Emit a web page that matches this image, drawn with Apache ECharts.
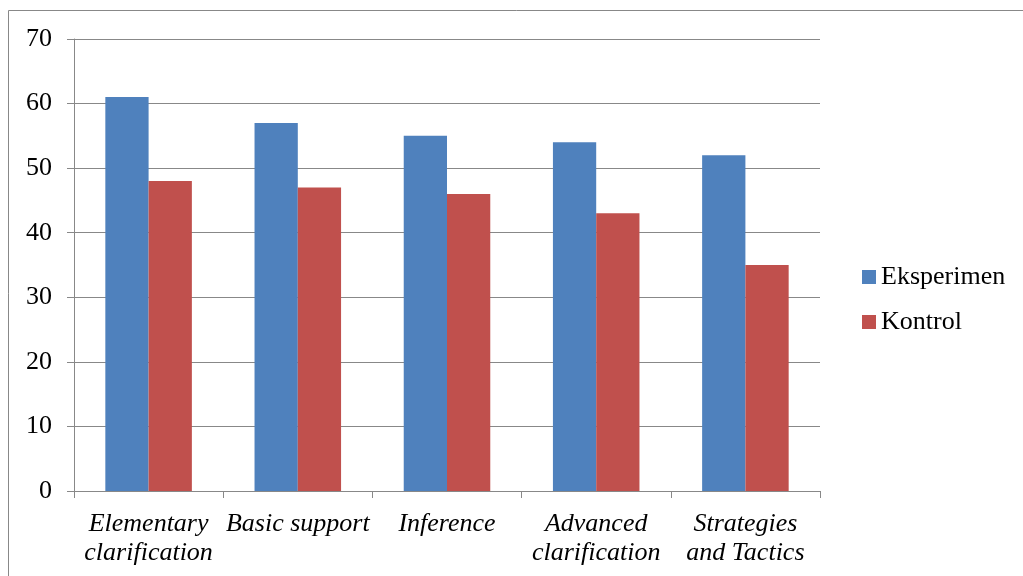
<!DOCTYPE html>
<html>
<head>
<meta charset="utf-8">
<script src="https://cdn.jsdelivr.net/npm/echarts@6/dist/echarts.min.js"></script>
<style>
  html, body { margin: 0; padding: 0; background: #fff; }
  #chart { width: 1023px; height: 576px; }
</style>
</head>
<body>
<div id="chart"></div>
<script>
const categories = ['Elementary\nclarification', 'Basic support', 'Inference', 'Advanced\nclarification', 'Strategies\nand Tactics']
const eksperimen = [61, 57, 55, 54, 52]
const kontrol = [48, 47, 46, 43, 35]

const chart = echarts.init(document.getElementById('chart'))
// Times New Roman look-alike
const font = '"Liberation Serif", "Times New Roman", serif'

const option = {
  animation: false,
  textStyle: { fontFamily: font },
  graphic: [{
    type: 'rect',
    shape: { x: 8.5, y: 10.5, width: 1030, height: 600 },
    style: { fill: 'none', stroke: '#888', lineWidth: 1 }
  }],
  grid: { left: 74, right: 203, top: 39, bottom: 85 },
  legend: {
    orient: 'vertical',
    left: 857,
    top: 259,
    itemWidth: 14,
    itemHeight: 14,
    itemGap: 19,
    icon: 'rect',
    textStyle: { fontFamily: font, fontSize: 26, color: '#000' },
    data: ['Eksperimen', 'Kontrol']
  },
  xAxis: {
    type: 'category',
    data: categories,
    axisLine: { lineStyle: { color: '#888' } },
    axisTick: { show: true, length: 7, lineStyle: { color: '#888' } },
    axisLabel: {
      fontFamily: font,
      fontStyle: 'italic',
      fontSize: 26,
      color: '#000',
      lineHeight: 29,
      margin: 19,
      interval: 0
    }
  },
  yAxis: {
    type: 'value',
    min: 0,
    max: 70,
    interval: 10,
    axisLine: { show: true, lineStyle: { color: '#888' } },
    axisTick: { show: true, length: 7, lineStyle: { color: '#888' } },
    axisLabel: { fontFamily: font, fontSize: 26, color: '#000', margin: 22 },
    splitLine: { lineStyle: { color: '#888' } }
  },
  series: [
    {
      name: 'Eksperimen',
      type: 'bar',
      barGap: '0%',
      barCategoryGap: '42%',
      itemStyle: { color: '#4f81bd' },
      data: eksperimen
    },
    {
      name: 'Kontrol',
      type: 'bar',
      itemStyle: { color: '#c0504d' },
      data: kontrol
    }
  ]
}

chart.setOption(option)
</script>
</body>
</html>
